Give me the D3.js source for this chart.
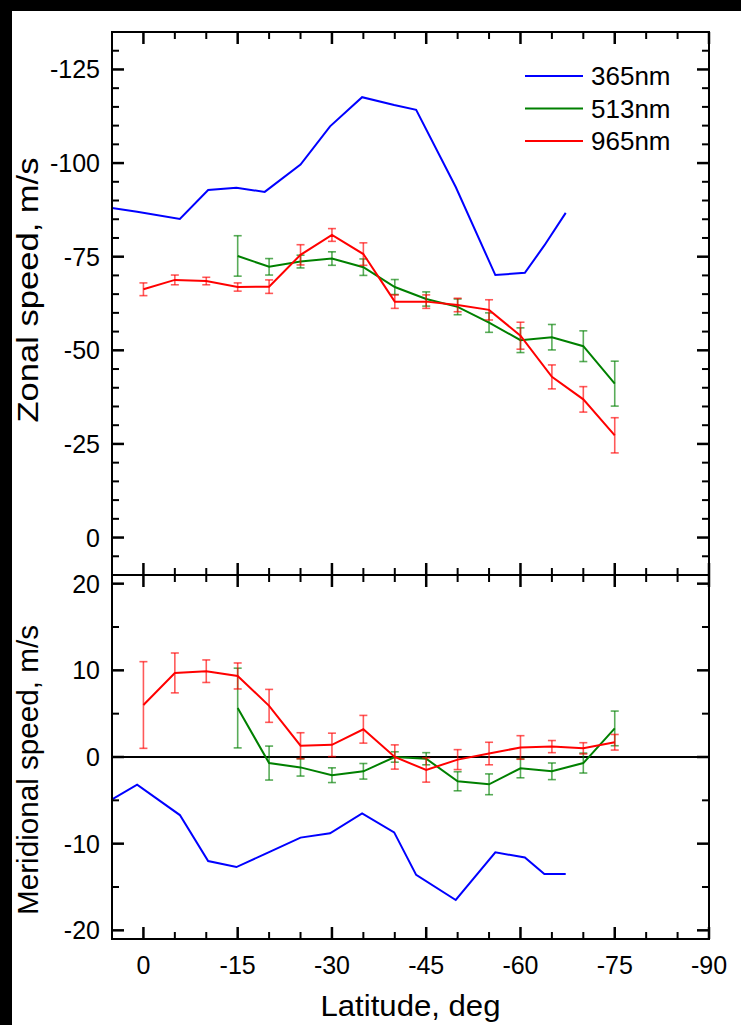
<!DOCTYPE html>
<html><head><meta charset="utf-8">
<script src="https://cdn.jsdelivr.net/npm/d3@7"></script>
<style>html,body{margin:0;padding:0;background:#fff;}svg{display:block;}</style>
</head><body>
<script>
// ---- data ----
const lat365 = [5, 1, -5.8, -10.3, -14.8, -19.3, -25, -29.7, -34.8, -39.9, -43.4, -49.7, -56, -60.7, -63.8, -67.2];
const zonal365 = [-88, -87, -85.1, -92.8, -93.4, -92.3, -99.6, -109.8, -117.6, -115.5, -114.2, -93.6, -70.1, -70.7, -78, -86.7];
const merid365 = [-4.9, -3.2, -6.7, -12.0, -12.7, -11.2, -9.3, -8.8, -6.5, -8.7, -13.6, -16.5, -11.0, -11.6, -13.5, -13.5];

const lat965 = [0, -5, -10, -15, -20, -25, -30, -35, -40, -45, -50, -55, -60, -65, -70, -75];
const zonal965 = [-66.3, -68.8, -68.5, -66.9, -67.0, -75.5, -80.8, -75.7, -63.0, -63.0, -62.1, -60.8, -53.9, -42.9, -36.9, -27.3];
const zonal965err = [1.7, 1.3, 1.0, 1.1, 1.8, 2.7, 1.7, 3.0, 1.8, 1.8, 1.8, 2.7, 3.6, 3.2, 3.4, 4.7];
const merid965 = [6.0, 9.7, 9.9, 9.35, 5.9, 1.3, 1.4, 3.2, 0, -1.5, -0.3, 0.4, 1.1, 1.2, 1.0, 1.7];
const merid965err = [5.0, 2.3, 1.3, 1.5, 1.9, 1.5, 1.35, 1.6, 1.4, 1.4, 1.15, 1.3, 1.36, 0.7, 0.65, 0.9];

const lat513 = [-15, -20, -25, -30, -35, -40, -45, -50, -55, -60, -65, -70, -75];
const zonal513 = [-75.2, -72.3, -73.7, -74.5, -72.2, -66.9, -63.7, -61.6, -57.4, -52.7, -53.5, -51.1, -41.1];
const zonal513err = [5.4, 2.2, 1.7, 1.8, 2.2, 2.0, 1.9, 2.1, 2.6, 3.3, 3.4, 4.1, 6.0];
const merid513 = [5.65, -0.7, -1.2, -2.1, -1.65, 0, -0.2, -2.8, -3.15, -1.3, -1.65, -0.7, 3.3];
const merid513err = [4.6, 1.96, 1.0, 0.85, 0.9, 0.6, 0.7, 1.1, 1.2, 1.1, 0.96, 1.15, 2.0];

const xTicks = [0, -15, -30, -45, -60, -75, -90];
const zonalTicks = [-125, -100, -75, -50, -25, 0];
const meridTicks = [20, 10, 0, -10, -20];
const legendNames = ["365nm", "513nm", "965nm"];
const colors = ["#0000ff", "#008000", "#ff0000"];

// ---- layout ----
const W = 741, H = 1025;
const L = 112, R = 709, T = 32, MID = 575, B = 939;

const svg = d3.select("body").append("svg").attr("width", W).attr("height", H)
  .style("font-family", "'Liberation Sans', Arial, sans-serif");
svg.append("rect").attr("width", W).attr("height", H).attr("fill", "#fff");
svg.append("rect").attr("x", 0).attr("y", 0).attr("width", W).attr("height", 11).attr("fill", "#000");
svg.append("rect").attr("x", 0).attr("y", 0).attr("width", 12).attr("height", H).attr("fill", "#000");

const x = d3.scaleLinear().domain([5, -90]).range([L, R]);
const yZ = d3.scaleLinear().domain([10, -135]).range([MID, T]);
const yM = d3.scaleLinear().domain([-21, 21]).range([B, MID]);

svg.append("clipPath").attr("id", "cz").append("rect").attr("x", L).attr("y", T).attr("width", R - L).attr("height", MID - T);
svg.append("clipPath").attr("id", "cm").append("rect").attr("x", L).attr("y", MID).attr("width", R - L).attr("height", B - MID);

// zero line in bottom panel
svg.append("line").attr("x1", L).attr("x2", R).attr("y1", yM(0)).attr("y2", yM(0))
  .attr("stroke", "#000").attr("stroke-width", 2);

function drawSeries(g, lats, vals, errs, color, yS) {
  const line = d3.line().x((d, i) => x(lats[i])).y(d => yS(d));
  if (errs) {
    const eg = g.append("g").attr("stroke", color).attr("stroke-opacity", 0.65).attr("stroke-width", 1.6);
    vals.forEach((v, i) => {
      const cx = x(lats[i]), y1 = yS(v - errs[i]), y2 = yS(v + errs[i]);
      eg.append("line").attr("x1", cx).attr("x2", cx).attr("y1", y1).attr("y2", y2);
      eg.append("line").attr("x1", cx - 4).attr("x2", cx + 4).attr("y1", y1).attr("y2", y1);
      eg.append("line").attr("x1", cx - 4).attr("x2", cx + 4).attr("y1", y2).attr("y2", y2);
    });
  }
  g.append("path").datum(vals).attr("d", line).attr("fill", "none")
    .attr("stroke", color).attr("stroke-width", 2).attr("stroke-linejoin", "miter");
}

const gZ = svg.append("g").attr("clip-path", "url(#cz)");
drawSeries(gZ, lat365, zonal365, null, colors[0], yZ);
drawSeries(gZ, lat513, zonal513, zonal513err, colors[1], yZ);
drawSeries(gZ, lat965, zonal965, zonal965err, colors[2], yZ);

const gM = svg.append("g").attr("clip-path", "url(#cm)");
drawSeries(gM, lat365, merid365, null, colors[0], yM);
drawSeries(gM, lat513, merid513, merid513err, colors[1], yM);
drawSeries(gM, lat965, merid965, merid965err, colors[2], yM);

// ---- axes (inward ticks) ----
const minorX = d3.range(0, -95, -5);
function xAxisTicks(yPos, dir) {
  const g = svg.append("g");
  minorX.forEach(v => {
    const major = v % 15 === 0;
    const len = major ? 12 : 7;
    g.append("line").attr("x1", x(v)).attr("x2", x(v)).attr("y1", yPos).attr("y2", yPos + dir * len)
      .attr("stroke", "#000").attr("stroke-width", major ? 2.5 : 2);
  });
}
xAxisTicks(T, 1);
xAxisTicks(MID, -1);
xAxisTicks(MID, 1);
xAxisTicks(B, -1);

function yAxisTicks(yS, lo, hi, step, majorStep) {
  const g = svg.append("g");
  for (let v = lo; v <= hi + 1e-9; v += step) {
    const major = Math.abs(v % majorStep) < 1e-9;
    const len = major ? 12 : 7;
    [[L, 1], [R, -1]].forEach(([xp, dir]) => {
      g.append("line").attr("x1", xp).attr("x2", xp + dir * len).attr("y1", yS(v)).attr("y2", yS(v))
        .attr("stroke", "#000").attr("stroke-width", major ? 2.5 : 2);
    });
  }
}
yAxisTicks(yZ, -130, 5, 5, 25);
yAxisTicks(yM, -20, 20, 5, 10);

// frames
svg.append("rect").attr("x", L).attr("y", T).attr("width", R - L).attr("height", MID - T)
  .attr("fill", "none").attr("stroke", "#000").attr("stroke-width", 2);
svg.append("rect").attr("x", L).attr("y", MID).attr("width", R - L).attr("height", B - MID)
  .attr("fill", "none").attr("stroke", "#000").attr("stroke-width", 2);

// tick labels
const fs = 25;
zonalTicks.forEach(v => {
  svg.append("text").attr("x", 100).attr("y", yZ(v)).attr("dy", "0.36em").attr("text-anchor", "end")
    .attr("font-size", fs).text(v);
});
meridTicks.forEach(v => {
  svg.append("text").attr("x", 100).attr("y", yM(v)).attr("dy", "0.36em").attr("text-anchor", "end")
    .attr("font-size", fs).text(v);
});
xTicks.forEach(v => {
  svg.append("text").attr("x", x(v)).attr("y", 974).attr("text-anchor", "middle")
    .attr("font-size", fs).text(v);
});

// axis titles
svg.append("text").attr("x", (L + R) / 2).attr("y", 1016).attr("text-anchor", "middle")
  .attr("font-size", 29).attr("textLength", 180).attr("lengthAdjust", "spacingAndGlyphs")
  .text("Latitude, deg");
svg.append("text").attr("transform", "translate(38,290) rotate(-90)").attr("text-anchor", "middle")
  .attr("font-size", 29).attr("textLength", 265).attr("lengthAdjust", "spacingAndGlyphs")
  .text("Zonal speed, m/s");
svg.append("text").attr("transform", "translate(38,770) rotate(-90)").attr("text-anchor", "middle")
  .attr("font-size", 29).attr("textLength", 290).attr("lengthAdjust", "spacingAndGlyphs")
  .text("Meridional speed, m/s");

// legend
const legY = [76, 108.5, 141];
legendNames.forEach((n, i) => {
  svg.append("line").attr("x1", 525).attr("x2", 583).attr("y1", legY[i]).attr("y2", legY[i])
    .attr("stroke", colors[i]).attr("stroke-width", 2);
  svg.append("text").attr("x", 591).attr("y", legY[i]).attr("dy", "0.36em")
    .attr("font-size", 26).text(n);
});
</script>
</body></html>
